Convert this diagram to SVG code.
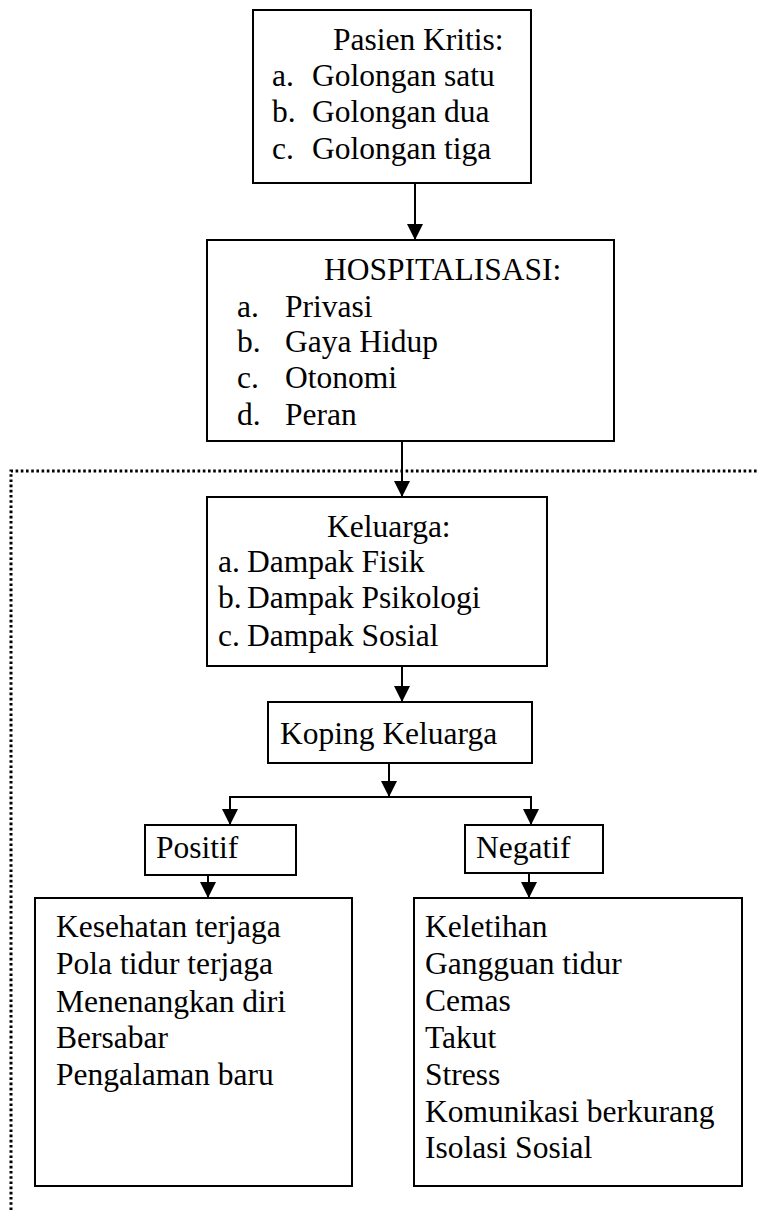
<svg xmlns="http://www.w3.org/2000/svg" width="758" height="1210" viewBox="0 0 758 1210">
<style>
.box{fill:#fff;stroke:#000;stroke-width:2}
.t{font-family:"Liberation Serif","Times New Roman",serif;font-size:31.5px;fill:#000}
.c{fill:none;stroke:#000;stroke-width:2}
.dot{fill:none;stroke:#000;stroke-width:3;stroke-dasharray:2.6 2.6}
</style>
<defs>
<marker id="ah" viewBox="0 0 16 16" refX="16" refY="8" markerWidth="16" markerHeight="16" markerUnits="userSpaceOnUse" orient="auto">
<path d="M0,0 L16,8 L0,16 z" fill="#000"/>
</marker>
</defs>
<g id="boundary">
<path class="dot" d="M11,1210 V471 H758"/>
</g>
<g id="connectors">
<line class="c" x1="415" y1="183" x2="415" y2="240" marker-end="url(#ah)"/>
<line class="c" x1="402" y1="441" x2="402" y2="497" marker-end="url(#ah)"/>
<line class="c" x1="402" y1="666" x2="402" y2="702" marker-end="url(#ah)"/>
<line class="c" x1="389" y1="763" x2="389" y2="797" marker-end="url(#ah)"/>
<path class="c" d="M230,825 V797 H531 V825"/>
<line class="c" x1="230" y1="797" x2="230" y2="825" marker-end="url(#ah)"/>
<line class="c" x1="531" y1="797" x2="531" y2="825" marker-end="url(#ah)"/>
<line class="c" x1="208" y1="872" x2="208" y2="898" marker-end="url(#ah)"/>
<line class="c" x1="529" y1="872" x2="529" y2="898" marker-end="url(#ah)"/>
</g>
<g id="pasien">
<rect class="box" x="253" y="10" width="278" height="173"/>
<text class="t" x="333" y="50">Pasien Kritis:</text>
<text class="t" x="272" y="86">a.</text><text class="t" x="312" y="86">Golongan satu</text>
<text class="t" x="272" y="122">b.</text><text class="t" x="312" y="122">Golongan dua</text>
<text class="t" x="272" y="159">c.</text><text class="t" x="312" y="159">Golongan tiga</text>
</g>
<g id="hospitalisasi">
<rect class="box" x="207" y="240" width="407" height="201"/>
<text class="t" x="324" y="280">HOSPITALISASI:</text>
<text class="t" x="237" y="317">a.</text><text class="t" x="285" y="317">Privasi</text>
<text class="t" x="237" y="352">b.</text><text class="t" x="285" y="352">Gaya Hidup</text>
<text class="t" x="237" y="388">c.</text><text class="t" x="285" y="388">Otonomi</text>
<text class="t" x="237" y="425">d.</text><text class="t" x="285" y="425">Peran</text>
</g>
<g id="keluarga">
<rect class="box" x="207" y="497" width="340" height="169"/>
<text class="t" x="327" y="537">Keluarga:</text>
<text class="t" x="218" y="572">a.</text><text class="t" x="247" y="572">Dampak Fisik</text>
<text class="t" x="218" y="608">b.</text><text class="t" x="247" y="608">Dampak Psikologi</text>
<text class="t" x="218" y="646">c.</text><text class="t" x="247" y="646">Dampak Sosial</text>
</g>
<g id="koping">
<rect class="box" x="268" y="702" width="264" height="61"/>
<text class="t" x="280" y="744">Koping Keluarga</text>
</g>
<g id="positif">
<rect class="box" x="145" y="825" width="151" height="50"/>
<text class="t" x="156" y="858">Positif</text>
</g>
<g id="negatif">
<rect class="box" x="465" y="825" width="138" height="48"/>
<text class="t" x="476" y="858">Negatif</text>
</g>
<g id="positif-list">
<rect class="box" x="35" y="898" width="317" height="288"/>
<text class="t" x="56" y="937">Kesehatan terjaga</text>
<text class="t" x="56" y="974">Pola tidur terjaga</text>
<text class="t" x="56" y="1012">Menenangkan diri</text>
<text class="t" x="56" y="1048">Bersabar</text>
<text class="t" x="56" y="1085">Pengalaman baru</text>
</g>
<g id="negatif-list">
<rect class="box" x="414" y="898" width="328" height="288"/>
<text class="t" x="425" y="937">Keletihan</text>
<text class="t" x="425" y="974">Gangguan tidur</text>
<text class="t" x="425" y="1011">Cemas</text>
<text class="t" x="425" y="1048">Takut</text>
<text class="t" x="425" y="1085">Stress</text>
<text class="t" x="425" y="1122">Komunikasi berkurang</text>
<text class="t" x="425" y="1158">Isolasi Sosial</text>
</g>
</svg>
